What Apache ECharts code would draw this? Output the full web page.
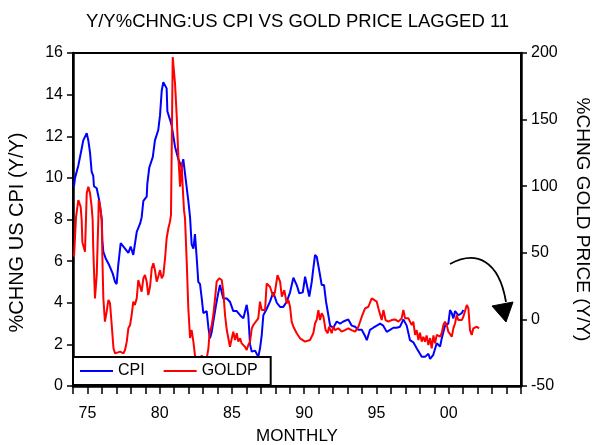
<!DOCTYPE html>
<html>
<head>
<meta charset="utf-8">
<script src="https://cdn.jsdelivr.net/npm/echarts@6/dist/echarts.min.js"></script>
<style>html,body{margin:0;padding:0;background:#fff;}#c{width:595px;height:445px;}</style>
</head>
<body>
<div id="c"></div>
<script>
// ---- data (decimal year, value) ----
const cpiYears = [1974.07,1974.14,1974.37,1974.60,1974.71,1974.95,1975.06,1975.18,1975.29,1975.40,1975.45,1975.64,1975.82,1975.99,1976.03,1976.10,1976.28,1976.51,1976.75,1976.91,1977.02,1977.13,1977.30,1977.60,1977.83,1977.99,1978.17,1978.41,1978.64,1978.75,1978.87,1979.10,1979.14,1979.28,1979.52,1979.67,1979.90,1980.02,1980.14,1980.25,1980.37,1980.48,1980.53,1980.71,1980.83,1981.06,1981.29,1981.52,1981.63,1981.75,1981.98,1982.10,1982.21,1982.33,1982.44,1982.56,1982.67,1982.79,1982.91,1983.02,1983.25,1983.37,1983.48,1983.60,1983.71,1983.90,1984.06,1984.17,1984.40,1984.64,1984.86,1985.09,1985.33,1985.56,1985.79,1986.02,1986.13,1986.25,1986.37,1986.60,1986.82,1986.94,1987.06,1987.17,1987.40,1987.63,1987.86,1988.10,1988.33,1988.55,1988.79,1989.02,1989.25,1989.48,1989.66,1989.90,1990.06,1990.17,1990.35,1990.52,1990.63,1990.75,1990.87,1991.05,1991.21,1991.37,1991.51,1991.67,1991.79,1992.01,1992.25,1992.48,1992.71,1993.05,1993.29,1993.52,1993.74,1993.98,1994.21,1994.33,1994.55,1994.78,1995.02,1995.25,1995.47,1995.71,1995.94,1996.17,1996.40,1996.63,1996.86,1997.09,1997.32,1997.55,1997.79,1998.01,1998.13,1998.36,1998.59,1998.71,1998.93,1999.17,1999.40,1999.52,1999.74,1999.97,2000.09,2000.21,2000.32,2000.44,2000.66,2000.90,2001.01];
const cpiValues = [9.6,10.0,10.6,11.4,11.8,12.15,11.8,11.2,10.3,10.1,9.6,9.5,8.9,8.0,7.0,6.45,6.1,5.8,5.4,5.0,4.9,5.8,6.86,6.6,6.4,6.7,6.3,7.4,7.8,8.1,8.9,9.1,9.7,10.5,11.0,11.8,12.3,13.0,14.2,14.6,14.55,14.3,13.2,12.8,12.5,11.5,10.9,10.5,10.9,10.95,8.9,8.1,6.8,6.6,7.3,6.15,5.0,4.9,4.2,3.5,3.6,2.8,2.3,2.6,3.1,3.9,4.5,4.85,4.2,4.2,4.05,3.6,3.6,3.4,3.25,3.9,3.4,2.0,1.65,1.7,1.4,1.8,2.45,3.4,3.7,4.05,4.5,4.0,3.8,3.8,4.05,4.5,5.2,4.85,4.45,4.5,5.25,5.2,4.3,5.0,5.65,6.3,6.2,5.5,4.85,4.85,4.05,3.4,2.9,2.8,3.1,3.0,3.1,3.2,2.9,2.85,2.7,2.7,2.4,2.2,2.7,2.8,2.9,3.0,2.9,2.6,2.7,2.8,2.8,2.85,3.2,2.9,2.2,2.1,1.8,1.55,1.4,1.4,1.55,1.3,1.5,2.05,1.9,2.3,2.9,3.0,3.65,3.5,3.25,3.6,3.4,3.5,3.65];

const goldYears = [1974.07,1974.21,1974.37,1974.53,1974.60,1974.65,1974.71,1974.83,1974.95,1975.06,1975.18,1975.29,1975.36,1975.40,1975.52,1975.64,1975.76,1975.78,1975.88,1975.99,1976.03,1976.10,1976.21,1976.33,1976.45,1976.56,1976.68,1976.80,1976.91,1977.02,1977.26,1977.49,1977.60,1977.72,1977.83,1977.95,1978.06,1978.17,1978.28,1978.41,1978.52,1978.64,1978.75,1978.87,1978.98,1979.10,1979.21,1979.33,1979.45,1979.56,1979.67,1979.79,1979.90,1980.02,1980.14,1980.25,1980.37,1980.48,1980.60,1980.71,1980.78,1980.83,1980.90,1981.06,1981.18,1981.29,1981.41,1981.52,1981.58,1981.68,1981.75,1981.87,1981.98,1982.10,1982.21,1982.33,1982.44,1982.60,1982.80,1982.91,1983.02,1983.20,1983.37,1983.44,1983.60,1983.71,1983.83,1983.94,1984.12,1984.29,1984.40,1984.52,1984.64,1984.75,1984.86,1984.98,1985.09,1985.21,1985.33,1985.44,1985.56,1985.67,1985.79,1985.90,1986.02,1986.13,1986.25,1986.37,1986.48,1986.60,1986.82,1986.94,1987.06,1987.17,1987.29,1987.40,1987.63,1987.86,1987.98,1988.15,1988.33,1988.45,1988.62,1988.79,1988.90,1989.02,1989.13,1989.25,1989.48,1989.71,1989.83,1990.06,1990.17,1990.40,1990.63,1990.75,1990.86,1990.98,1991.09,1991.21,1991.33,1991.48,1991.62,1991.72,1991.90,1992.01,1992.13,1992.36,1992.59,1992.82,1993.05,1993.28,1993.52,1993.75,1993.98,1994.21,1994.44,1994.67,1994.78,1995.02,1995.13,1995.36,1995.48,1995.63,1995.82,1996.05,1996.28,1996.52,1996.74,1996.86,1996.98,1997.21,1997.32,1997.44,1997.55,1997.67,1997.78,1997.90,1998.01,1998.13,1998.24,1998.36,1998.47,1998.59,1998.71,1998.82,1998.94,1999.05,1999.17,1999.40,1999.51,1999.63,1999.74,1999.86,1999.97,2000.09,2000.21,2000.32,2000.44,2000.55,2000.66,2000.78,2000.90,2001.01,2001.13,2001.25,2001.36,2001.47,2001.59,2001.70,2001.82,2001.94,2002.10];
const goldValues = [47,77,89.6,84.6,74.6,58,57,50.8,94.7,99.6,94.7,84.6,74.6,53.4,15.8,33,78,89.6,84.6,74.6,48,15.8,-1.7,5.8,14.6,12.1,-4.2,-21.7,-25.5,-26.2,-24.2,-25.5,-23,-16.7,-6.7,-4.2,3.3,13.3,10.8,15.8,29.6,30.9,20.8,30.9,33.3,28.3,18.3,24.5,38.4,42.1,37.1,28.3,32,37,30.9,33.3,45.9,60.9,68.4,73.4,78.4,127,197,177,152,122,99.6,118,102,82,76,43,8.3,-14,-8,-16.7,-27,-32,-30,-27,-31,-33,-21.7,-11.7,-4.2,3.3,15.8,28.3,30.9,29.6,20.8,3.3,-8,-9.2,-20.5,-21.7,-9.2,-15.5,-10.4,-16.7,-14.2,-18,-16.7,-20.5,-23,-19.2,-16.7,-6.7,-4.2,-2.9,0.8,13.3,7,8.3,7,27,24.5,17,20.8,33.3,28.3,17,22,12,14.6,9.5,-1.7,-5.5,-10.4,-14.2,-13,-16.7,-18,-15.5,-10.4,-2.9,-0.5,7,-0.5,4.6,2,-8,-10.4,-5.5,-10.4,-5.5,-8,-6.7,-9.2,-8,-6.7,-8,-9.2,-5.5,2,8.3,9.5,15.8,17,13.3,8.3,-0.5,7,-0.5,-1.7,-0.5,0,-1.7,0.8,7,0.8,0.8,-0.5,-4.2,-1.7,-11.7,-8,-15.5,-10,-16.7,-13,-16.7,-12,-19.2,-14,-21.7,-12,-18,-11.7,-13,-10.4,-4.2,-1.7,-4.2,-9.2,-8,-13,-6.7,-2.9,3.3,-0.5,0.8,-0.5,2,3.3,10.8,8.3,-8,-11.7,-6.7,-8,-5.5,-6.7];

const seriesNames = ['CPI', 'GOLDP'];
const leftTicks = {min: 0, max: 16, step: 2};
const rightTicks = {min: -50, max: 200, step: 50};
const xRange = {min: 1974, max: 2005, step: 1, labelEvery: 5, lastLabel: 2000};

const FONT = 'Liberation Sans, Arial, sans-serif';
const zip = (a, b) => a.map((v, i) => [v, b[i]]);

const chart = echarts.init(document.getElementById('c'), null, {renderer: 'canvas'});
chart.setOption({
  animation: false,
  backgroundColor: '#fff',
  textStyle: {fontFamily: FONT},
  title: {
    text: 'Y/Y%CHNG:US CPI VS GOLD PRICE LAGGED 11',
    left: 'center', top: 7,
    textStyle: {fontFamily: FONT, fontSize: 18.5, fontWeight: 'normal', color: '#000'}
  },
  grid: {left: 73, right: 74, top: 53, bottom: 59, show: true, borderColor: '#000', borderWidth: 2,
         containLabel: false, outerBoundsMode: 'none'},
  legend: {
    data: seriesNames.map(n => ({name: n, icon: 'rect'})),
    left: 73, top: 357,
    orient: 'horizontal',
    itemWidth: 33, itemHeight: 2, itemGap: 19,
    padding: [5, 13, 5, 7],
    borderColor: '#000', borderWidth: 2, borderRadius: 0,
    backgroundColor: '#fff',
    z: 10,
    textStyle: {fontFamily: FONT, fontSize: 16, color: '#000', lineHeight: 18}
  },
  xAxis: {
    type: 'value', min: xRange.min, max: xRange.max, interval: xRange.step,
    name: 'MONTHLY', nameLocation: 'middle', nameGap: 42,
    nameTextStyle: {fontFamily: FONT, fontSize: 17, color: '#000'},
    axisLine: {show: true, lineStyle: {color: '#000', width: 2.5}},
    axisTick: {show: true, inside: false, length: 8, lineStyle: {color: '#000', width: 1.5}},
    axisLabel: {
      margin: 20, color: '#000', fontFamily: FONT, fontSize: 16,
      formatter: v => {
        const y = Math.round(v);
        return (y % xRange.labelEvery === 0 && y <= xRange.lastLabel) ? String(y % 100).padStart(2, '0') : '';
      }
    },
    splitLine: {show: false}
  },
  yAxis: [{
    type: 'value', position: 'left', min: leftTicks.min, max: leftTicks.max, interval: leftTicks.step,
    name: '%CHNG US CPI (Y/Y)', nameLocation: 'middle', nameRotate: 90, nameGap: 46,
    nameTextStyle: {fontFamily: FONT, fontSize: 20, color: '#000', padding: [0, 26, 0, 0]},
    axisLine: {show: true, lineStyle: {color: '#000', width: 2.5}},
    axisTick: {show: true, inside: false, length: 6, lineStyle: {color: '#000', width: 1.5}},
    axisLabel: {margin: 10, color: '#000', fontFamily: FONT, fontSize: 16},
    splitLine: {show: false}
  }, {
    type: 'value', position: 'right', min: rightTicks.min, max: rightTicks.max, interval: rightTicks.step,
    name: '%CHNG GOLD PRICE (Y/Y)', nameLocation: 'middle', nameRotate: -90, nameGap: 52,
    nameTextStyle: {fontFamily: FONT, fontSize: 19, color: '#000'},
    axisLine: {show: true, lineStyle: {color: '#000', width: 2.5}},
    axisTick: {show: true, inside: false, length: 6, lineStyle: {color: '#000', width: 1.5}},
    axisLabel: {margin: 10, color: '#000', fontFamily: FONT, fontSize: 16},
    splitLine: {show: false}
  }],
  series: [{
    name: seriesNames[0], type: 'line', yAxisIndex: 0, symbol: 'none',
    data: zip(cpiYears, cpiValues),
    lineStyle: {color: '#0000ff', width: 2}, itemStyle: {color: '#0000ff'}, z: 2
  }, {
    name: seriesNames[1], type: 'line', yAxisIndex: 1, symbol: 'none',
    data: zip(goldYears, goldValues),
    lineStyle: {color: '#ff0000', width: 2}, itemStyle: {color: '#ff0000'}, z: 3
  }],
  graphic: [{
    type: 'bezierCurve', z: 20,
    shape: {x1: 450, y1: 264, cpx1: 476, cpy1: 250, cpx2: 499, cpy2: 260, x2: 506, y2: 302},
    style: {stroke: '#000', lineWidth: 1.8, fill: null}
  }, {
    type: 'polygon', z: 20,
    shape: {points: [[492, 306], [513, 302], [506, 322]]},
    style: {fill: '#000', stroke: '#000'}
  }]
});
</script>
</body>
</html>
